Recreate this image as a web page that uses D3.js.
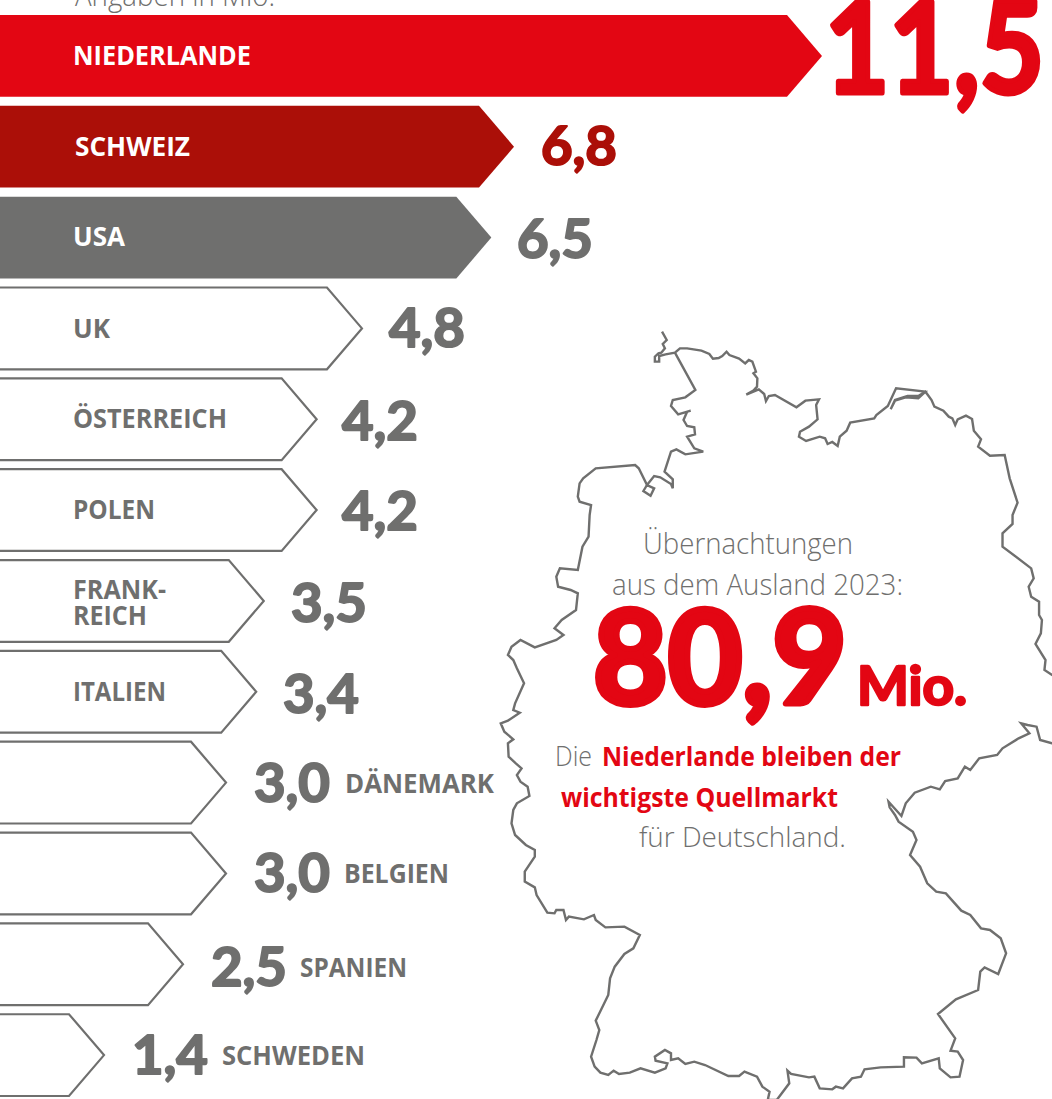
<!DOCTYPE html>
<html lang="de">
<head>
<meta charset="utf-8">
<script src="https://cdn.jsdelivr.net/npm/d3@7"></script>
<style>
  html, body { margin: 0; padding: 0; background: #fff; overflow: hidden; }
  svg { display: block; }
  text { font-family: "Open Sans", sans-serif; }
  text.num { font-family: Lato, "Open Sans", sans-serif; stroke-linejoin: round; }
</style>
</head>
<body>
<div id="container"></div>
<script>
// Plot constants
var width = 1052,
height = 1099;

var RED = '#e30613',
DARKRED = '#ab0f08',
GREY = '#6f6f6e';

// Data (Mio. Übernachtungen)
const categories = ['NIEDERLANDE', 'SCHWEIZ', 'USA', 'UK', 'ÖSTERREICH', 'POLEN', 'FRANK-|REICH', 'ITALIEN', 'DÄNEMARK', 'BELGIEN', 'SPANIEN', 'SCHWEDEN'];
const values = [11.5, 6.8, 6.5, 4.8, 4.2, 4.2, 3.5, 3.4, 3.0, 3.0, 2.5, 1.4];

// Bar lengths in the original are not strictly to scale, so the scale is piecewise
var x = d3.scaleLinear().domain([1.4, 2.5, 3, 6.8, 11.5]).range([105, 184, 227, 514, 822]);
var y = d3.scaleBand().domain(categories).range([15, 1096]).paddingInner(0.1);

var de = d3.formatLocale({ decimal: ',', thousands: '.', grouping: [3], currency: ['', ' €'] });
var fmt = de.format('.1f');

const mapNorth = [[480, 35], [493, 60], [482, 72], [488, 85], [478, 98], [470, 100], [460, 110], [460, 125], [472, 125], [472, 108], [490, 103], [516, 98], [530, 85], [550, 85], [590, 92], [612, 102], [622, 116], [638, 114], [648, 108], [660, 95], [668, 105], [695, 116], [712, 130], [722, 120], [732, 125], [742, 155], [735, 160], [746, 175], [745, 200], [735, 212], [715, 224], [750, 208], [765, 222], [770, 243], [778, 228], [795, 225], [855, 262], [880, 242], [918, 238], [910, 255], [914, 298], [890, 320], [865, 335], [862, 350], [882, 363], [920, 350], [935, 355], [942, 372], [955, 366], [970, 378], [976, 350], [995, 332], [1005, 308], [1072, 295], [1078, 285], [1110, 258], [1133, 205], [1215, 215], [1195, 235], [1160, 232], [1130, 242], [1118, 268], [1130, 240], [1165, 228], [1195, 228], [1215, 215], [1232, 240], [1240, 260], [1265, 272], [1280, 290], [1290, 295], [1298, 315], [1305, 298], [1328, 287], [1345, 297], [1350, 332], [1370, 358], [1362, 380], [1395, 407], [1436, 405], [1450, 475], [1472, 548], [1458, 585], [1458, 612], [1430, 640], [1430, 680], [1510, 745], [1517, 775], [1503, 800], [1510, 830], [1532, 845], [1532, 885], [1540, 900], [1537, 940], [1522, 972], [1550, 1020], [1547, 1050], [1568, 1065], [1700, 1100]];
const mapSouth = [[1700, 150], [1568, 130], [1535, 120], [1525, 80], [1500, 75], [1482, 70], [1505, 100], [1475, 115], [1430, 145], [1415, 165], [1365, 175], [1340, 210], [1325, 200], [1305, 235], [1270, 243], [1255, 268], [1230, 260], [1185, 278], [1160, 310], [1148, 348], [1112, 305], [1115, 322], [1130, 345], [1140, 365], [1180, 395], [1190, 420], [1172, 465], [1200, 500], [1220, 550], [1245, 575], [1272, 580], [1315, 632], [1340, 645], [1370, 685], [1395, 690], [1425, 715], [1440, 760], [1418, 822], [1380, 802], [1368, 815], [1362, 870], [1300, 898], [1250, 942], [1298, 1015], [1285, 1052], [1305, 1055], [1320, 1080], [1310, 1130], [1285, 1132], [1255, 1105], [1252, 1075], [1205, 1090], [1190, 1073], [1155, 1072], [1155, 1100], [1090, 1102], [1045, 1108], [1035, 1130], [1010, 1135], [985, 1165], [965, 1160], [955, 1168], [920, 1165], [905, 1130], [890, 1132], [840, 1122], [830, 1112], [835, 1150], [800, 1200], [775, 1200], [780, 1175], [760, 1160], [745, 1130], [710, 1115], [695, 1128], [665, 1128], [600, 1095], [570, 1085], [545, 1092], [525, 1075], [505, 1080], [505, 1060], [488, 1050], [460, 1070], [462, 1082], [495, 1090], [490, 1105], [460, 1118], [420, 1105], [390, 1118], [360, 1122], [345, 1112], [330, 1125], [308, 1118], [292, 1100], [282, 1070], [297, 1020], [305, 990], [295, 962], [330, 885], [335, 835], [348, 800], [375, 762], [400, 745], [418, 705], [375, 680], [322, 682], [295, 660], [290, 645], [262, 658], [220, 650], [212, 660], [205, 630], [185, 630], [180, 640], [160, 638], [130, 585], [125, 562], [97, 545], [97, 515], [125, 470], [125, 450], [100, 435], [70, 405], [60, 370], [65, 330], [75, 310], [110, 288], [105, 260], [85, 245], [75, 225], [88, 205], [72, 190], [52, 170], [50, 130], [65, 118], [40, 95], [30, 70], [50, 62], [83, 38]];
const mapWest = [[65, 1170], [70, 1150], [95, 1090], [75, 1045], [65, 1020], [50, 1005], [60, 980], [85, 960], [125, 982], [185, 960], [205, 945], [180, 925], [200, 900], [240, 870], [245, 820], [225, 810], [190, 800], [185, 770], [195, 745], [245, 750], [258, 680], [275, 650], [278, 585], [282, 555], [250, 545], [245, 530], [250, 490], [260, 475], [295, 445], [405, 435], [415, 445], [438, 495], [428, 513], [448, 527], [458, 505], [438, 495], [458, 468], [475, 472], [505, 492], [510, 505], [510, 478], [487, 455], [505, 395], [520, 388], [545, 403], [595, 395], [570, 385], [550, 350], [572, 343], [570, 322], [550, 318], [540, 300], [550, 275], [560, 272], [525, 283], [505, 258], [510, 240], [545, 232], [573, 210], [516, 98]];

var svg = d3.select('#container').append('svg').attr('width', width).attr('height', height);

// Map first, everything else sits on top
var cropX = v => 490 + v * 0.3584;
var mapPoints = mapNorth.map(p => [cropX(p[0]), 320 + p[1] / 3]).
concat(mapSouth.map(p => [cropX(p[0]), 700 + p[1] / 3])).
concat(mapWest.map(p => [cropX(p[0]), 320 + p[1] / 3]));

svg.append('path').
datum(mapPoints).
attr('fill', 'none').
attr('stroke', GREY).
attr('stroke-width', 2.4).
attr('stroke-linejoin', 'miter').
attr('d', d3.line());

function put(str, px, py, size, weight, fill, w) {
  var t = svg.append('text').attr('x', px).attr('y', py).
  attr('font-size', size).attr('font-weight', weight).attr('fill', fill).text(str);
  // squeeze to the width it has in the reference
  if (w) t.attr('textLength', w).attr('lengthAdjust', 'spacingAndGlyphs');
  return t;
}

// The heavy numerals: no black cut is installed, so the bold one gets a stroke of its own colour
function num(str, px, py, size, fill, w, sw) {
  return put(str, px, py, size, 700, fill, w).attr('class', 'num').attr('stroke', fill).attr('stroke-width', sw);
}

// Arrows
var head = 35;
function arrow(d, i) {
  // outlined ones: the miter of the stroke pokes out past the tip
  var tip = x(values[i]) - (i < 3 ? 0 : 1), top = y(d), h = y.bandwidth();
  return 'M-10,' + top + 'L' + (tip - head) + ',' + top + 'L' + tip + ',' + (top + h / 2) +
  'L' + (tip - head) + ',' + (top + h) + 'L-10,' + (top + h);
}

function barFill(i) {
  return i === 0 ? RED : i === 1 ? DARKRED : i === 2 ? GREY : '#fff';
}

svg.append('g').selectAll('path').data(categories).enter().append('path').
attr('d', arrow).
attr('fill', (d, i) => barFill(i)).
attr('stroke', (d, i) => i < 3 ? 'none' : GREY).
attr('stroke-width', 2.2);

// Where the labels sit in the reference
var labelW = { NIEDERLANDE: 178, SCHWEIZ: 115, USA: 52, UK: 37, 'ÖSTERREICH': 154, POLEN: 82, 'FRANK-': 93, REICH: 74, ITALIEN: 93, 'DÄNEMARK': 149, BELGIEN: 105, SPANIEN: 107, SCHWEDEN: 143 };
var labelBase = [65, 156, 246, 338, 428, 519, 0, 701, 793, 883, 977, 1065];
var valueX = [825, 541, 517, 389, 342, 342, 291, 283, 254, 254, 211, 132];
var nameX = [73, 75, 73, 73, 73, 73, 73, 73, 345, 344, 300, 222];
var valueBase = [93, 165, 258, 347, 440, 530, 622, 713, 802, 892, 986, 1074];

categories.forEach(function (c, i) {
  var colour = i < 3 ? '#fff' : GREY;
  var big = i === 0;

  // value
  num(fmt(values[i]), valueX[i], valueBase[i], big ? 126 : 53, i === 0 ? RED : i === 1 ? DARKRED : GREY, big ? 219 : 76, big ? 5 : 2);

  // name
  if (i === 6) {
    c.split('|').forEach((s, j) => put(s, nameX[i], 599 + j * 26, 26, 700, colour, labelW[s]));
  } else {
    put(c, nameX[i], labelBase[i], 26, 700, colour, labelW[c]);
  }
});

// Texts
put('Angaben in Mio.', 75, 6, 29, 300, GREY, 200);
put('Übernachtungen', 643, 554, 29, 300, GREY, 210);
put('aus dem Ausland 2023:', 612, 595, 29, 300, GREY, 291);
num('80,9', 593, 704, 130, RED, 254, 6);
num('Mio.', 857, 705, 54, RED, 110, 2.5);
put('Die', 555, 766, 28, 300, GREY, 37);
put('Niederlande bleiben der', 602, 766, 27, 700, RED, 299);
put('wichtigste Quellmarkt', 561, 807, 27, 700, RED, 277);
put('für Deutschland.', 639, 847, 28, 300, GREY, 207);
</script>
</body>
</html>
